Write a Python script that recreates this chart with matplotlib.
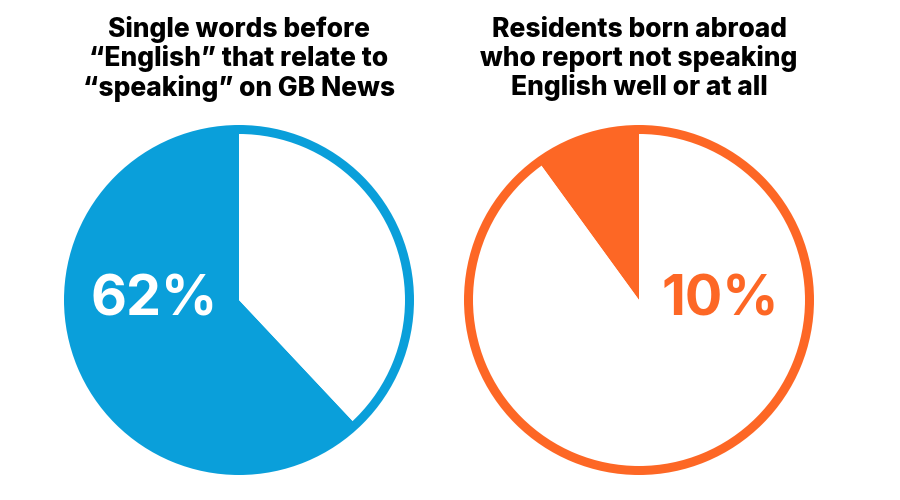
import matplotlib.pyplot as plt

# data
titles = ["Single words before\n\u201cEnglish\u201d that relate to\n\u201cspeaking\u201d on GB News",
          "Residents born abroad\nwho report not speaking\nEnglish well or at all"]
shares = [62, 10]
labels = ["62%", "10%"]
colors = ["#0A9FDA", "#FD6725"]

fig = plt.figure(figsize=(9, 5), dpi=100)
ax = fig.add_axes([0, 0, 1, 1])

centers = [(239, 200), (639, 200)]
label_dx = [-85, 81]
r_out = 175
ring = 8

for i, share in enumerate(shares):
    cx, cy = centers[i]
    #wedge + white remainder, starting at 12 o'clock going counterclockwise
    ax.pie([share, 100 - share], colors=[colors[i], 'white'], startangle=90,
           counterclock=True, radius=r_out - ring, center=(cx, cy),
           wedgeprops=dict(linewidth=0), frame=True)
    #outer ring
    ax.pie([1], colors=[colors[i]], radius=r_out, center=(cx, cy),
           wedgeprops=dict(width=ring + 1, linewidth=0), frame=True)
    txt_color = 'white' if share > 50 else colors[i]
    ax.text(cx + label_dx[i], cy, labels[i], ha='center', va='center',
            fontsize=40, fontweight='bold', color=txt_color, family='Inter')
    ax.text(cx, 441, titles[i], ha='center', va='center', fontsize=19,
            fontweight='heavy', color='black', family=['Inter', 'DejaVu Sans'],
            linespacing=1.1)

ax.set_xlim(0, 900)
ax.set_ylim(0, 500)
ax.set_aspect('equal')
ax.axis('off')
plt.savefig('out.png', dpi=100)
